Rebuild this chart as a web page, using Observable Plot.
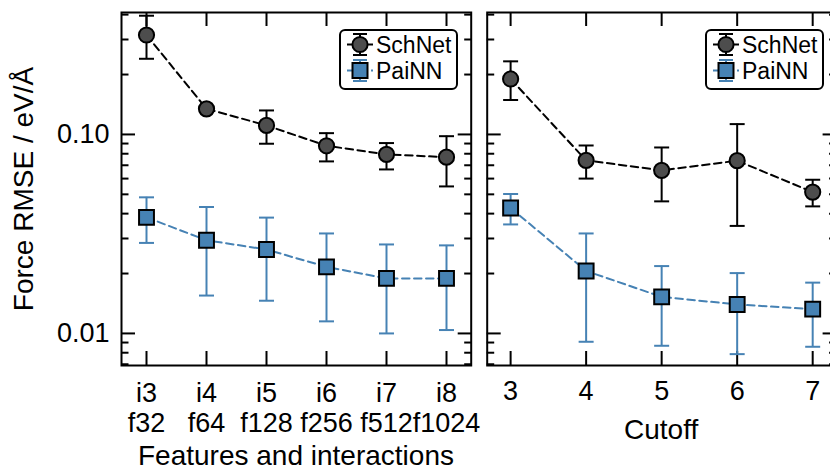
<!DOCTYPE html>
<html><head><meta charset="utf-8">
<script src="https://cdn.jsdelivr.net/npm/d3@7"></script>
<script src="https://cdn.jsdelivr.net/npm/@observablehq/plot@0.6"></script>
<style>
html,body{margin:0;padding:0;background:#fff;overflow:hidden;width:830px;height:470px}
#wrap{position:relative;width:840px;height:470px;font-family:'Liberation Sans',Arial,Helvetica,sans-serif}
#wrap > svg, #wrap > div{position:absolute;top:0}
</style></head><body><div id="wrap"></div>
<script>
// ---- data ----
const featureLabels = ["i3\nf32","i4\nf64","i5\nf128","i6\nf256","i7\nf512","i8\nf1024"];
const schnetFeat   = [0.316, 0.1345, 0.111, 0.0877, 0.0794, 0.0769];
const schnetFeatLo = [0.240, 0.131, 0.0898, 0.0732, 0.0667, 0.0548];
const schnetFeatHi = [0.395, 0.138, 0.132, 0.1015, 0.0905, 0.098];
const painnFeat    = [0.0383, 0.0294, 0.0264, 0.0216, 0.0189, 0.0189];
const painnFeatLo  = [0.0285, 0.0155, 0.0146, 0.0115, 0.0100, 0.0104];
const painnFeatHi  = [0.0483, 0.0432, 0.0382, 0.0318, 0.0280, 0.0277];

const cutoffs      = [3, 4, 5, 6, 7];
const schnetCut    = [0.190, 0.0741, 0.0660, 0.0738, 0.0513];
const schnetCutLo  = [0.149, 0.060, 0.0461, 0.0347, 0.0435];
const schnetCutHi  = [0.233, 0.088, 0.086, 0.1127, 0.0592];
const painnCut     = [0.0427, 0.0206, 0.01527, 0.01398, 0.01324];
const painnCutLo   = [0.0353, 0.00908, 0.00867, 0.00787, 0.00857];
const painnCutHi   = [0.0502, 0.0318, 0.0218, 0.0201, 0.0180];

const majorY = [0.01, 0.1];
const minorY = [0.007, 0.008, 0.009, 0.02, 0.03, 0.04, 0.05, 0.06, 0.07, 0.08, 0.09, 0.2, 0.3, 0.4];
const seriesNames = ["SchNet", "PaiNN"];
const yTitle = "Force RMSE / eV/Å";
const xTitleLeft = "Features and interactions";
const xTitleRight = "Cutoff";

// ---- style ----
const BLUE = "#4682b4", GREY = "#4d4d4d";
const FONT = "'Liberation Sans', Arial, Helvetica, sans-serif";
const YDOMAIN = [0.0069, 0.41];
const TICKFONT = 27, LABELFONT = 28;

function rows(xs, v, lo, hi) { return xs.map((x, i) => ({x, v: v[i], lo: lo[i], hi: hi[i]})); }
const capSymbol = {draw(ctx, size) { const r = Math.sqrt(size / Math.PI); ctx.moveTo(-r, 0); ctx.lineTo(r, 0); }};

function seriesMarks(data, color, symbol, fill, r) {
  return [
    Plot.line(data, {x: "x", y: "v", stroke: color, strokeWidth: 2, strokeDasharray: "7.5,4.5"}),
    Plot.ruleX(data, {x: "x", y1: "lo", y2: "hi", stroke: color, strokeWidth: 2}),
    Plot.dot(data, {x: "x", y: "lo", symbol: capSymbol, r: 7.5, fill: "none", stroke: color, strokeWidth: 2}),
    Plot.dot(data, {x: "x", y: "hi", symbol: capSymbol, r: 7.5, fill: "none", stroke: color, strokeWidth: 2}),
    Plot.dot(data, {x: "x", y: "v", symbol, r, fill, stroke: "black", strokeWidth: 2})
  ];
}

function tickMarks(xTicks) {
  const o = {strokeWidth: 2, fill: "none", label: null};
  return [
    Plot.axisY(majorY, {...o, anchor: "left", tickSize: -14}),
    Plot.axisY(minorY, {...o, anchor: "left", tickSize: -7.5}),
    Plot.axisY(majorY, {...o, anchor: "right", tickSize: -14}),
    Plot.axisY(minorY, {...o, anchor: "right", tickSize: -7.5}),
    Plot.axisX(xTicks, {...o, anchor: "bottom", tickSize: -14}),
    Plot.axisX(xTicks, {...o, anchor: "top", tickSize: -13})
  ];
}

const style = {fontFamily: FONT, fontSize: TICKFONT + "px", background: "transparent", overflow: "visible", color: "black"};

const left = Plot.plot({
  width: 480, height: 470,
  marginLeft: 121, marginRight: 9.3, marginTop: 12, marginBottom: 105,
  x: {type: "point", domain: featureLabels, padding: 0.41},
  y: {type: "log", domain: YDOMAIN},
  style,
  marks: [
    ...tickMarks(featureLabels),
    Plot.axisY(majorY, {anchor: "left", tickSize: 0, tickPadding: 12, stroke: "none",
      tickFormat: d3.format(".2f"), label: null}),
    Plot.axisY(majorY, {anchor: "left", tickSize: 0, stroke: "none", tickFormat: () => "", fontSize: LABELFONT,
      label: yTitle, labelArrow: "none", labelAnchor: "center", labelOffset: 108}),
    Plot.axisX(featureLabels, {anchor: "bottom", tickSize: 0, tickPadding: 15, stroke: "none", lineHeight: 1.12,
      label: null}),
    ...seriesMarks(rows(featureLabels, schnetFeat, schnetFeatLo, schnetFeatHi), "black", "circle", GREY, 7.6),
    ...seriesMarks(rows(featureLabels, painnFeat, painnFeatLo, painnFeatHi), BLUE, "square", BLUE, 8.4),
    Plot.frame({strokeWidth: 2})
  ]
});
left.style.left = "0px";

const right = Plot.plot({
  width: 362, height: 470,
  marginLeft: 8.7, marginRight: 4.4, marginTop: 12, marginBottom: 105,
  x: {type: "linear", domain: [2.69, 7.31]},
  y: {type: "log", domain: YDOMAIN},
  style,
  marks: [
    ...tickMarks(cutoffs),
    Plot.axisX(cutoffs, {anchor: "bottom", tickSize: 0, tickPadding: 15, stroke: "none",
      tickFormat: d3.format("d"), label: null}),
    ...seriesMarks(rows(cutoffs, schnetCut, schnetCutLo, schnetCutHi), "black", "circle", GREY, 7.6),
    ...seriesMarks(rows(cutoffs, painnCut, painnCutLo, painnCutHi), BLUE, "square", BLUE, 8.4),
    Plot.frame({strokeWidth: 2})
  ]
});
right.style.left = "478px";

const wrap = document.getElementById("wrap");
wrap.appendChild(left);
wrap.appendChild(right);

// x axis titles below each panel
function title(text, cx, baseline) {
  const d = document.createElement("div");
  d.textContent = text;
  Object.assign(d.style, {position: "absolute", fontFamily: FONT, fontSize: LABELFONT + "px", lineHeight: "1",
    whiteSpace: "nowrap", color: "black"});
  wrap.appendChild(d);
  const w = d.offsetWidth, h = d.offsetHeight;
  d.style.left = (cx - w / 2) + "px";
  d.style.top = (baseline - 0.8465 * h) + "px";
}
title(xTitleLeft, 296, 466);
title(xTitleRight, 661, 440);

// legends (inside each panel, upper right)
function legend(leftPx) {
  const W = 119, H = 61;
  const svg = d3.create("svg").attr("width", W).attr("height", H)
    .style("position", "absolute").style("left", leftPx + "px").style("top", "29px").style("overflow", "visible");
  svg.append("rect").attr("x", 1).attr("y", 1).attr("width", W - 2).attr("height", H - 2)
    .attr("rx", 5).attr("fill", "white").attr("stroke", "black").attr("stroke-width", 2);
  const items = [
    {name: seriesNames[0], color: "black", shape: "circle", fill: GREY, cy: 15.5},
    {name: seriesNames[1], color: BLUE, shape: "square", fill: BLUE, cy: 41.5}
  ];
  for (const it of items) {
    const g = svg.append("g").attr("transform", `translate(21,${it.cy})`);
    g.append("line").attr("x1", -13).attr("x2", 13).attr("stroke", it.color).attr("stroke-width", 2)
      .attr("stroke-dasharray", it.color === "black" ? null : "5,3");
    g.append("line").attr("y1", -10.5).attr("y2", 10.5).attr("stroke", it.color).attr("stroke-width", 2);
    for (const y of [-10.5, 10.5]) g.append("line").attr("x1", -7).attr("x2", 7).attr("y1", y).attr("y2", y)
      .attr("stroke", it.color).attr("stroke-width", 2);
    if (it.shape === "circle") g.append("circle").attr("r", 7.6).attr("fill", it.fill).attr("stroke", "black").attr("stroke-width", 2);
    else g.append("rect").attr("x", -7.5).attr("y", -7.5).attr("width", 15).attr("height", 15)
      .attr("fill", it.fill).attr("stroke", "black").attr("stroke-width", 2);
    svg.append("text").attr("x", 37).attr("y", it.cy + 8.3).attr("font-family", FONT).attr("font-size", 23)
      .attr("fill", "black").text(it.name);
  }
  wrap.appendChild(svg.node());
}
legend(339);
legend(705);
</script></body></html>
